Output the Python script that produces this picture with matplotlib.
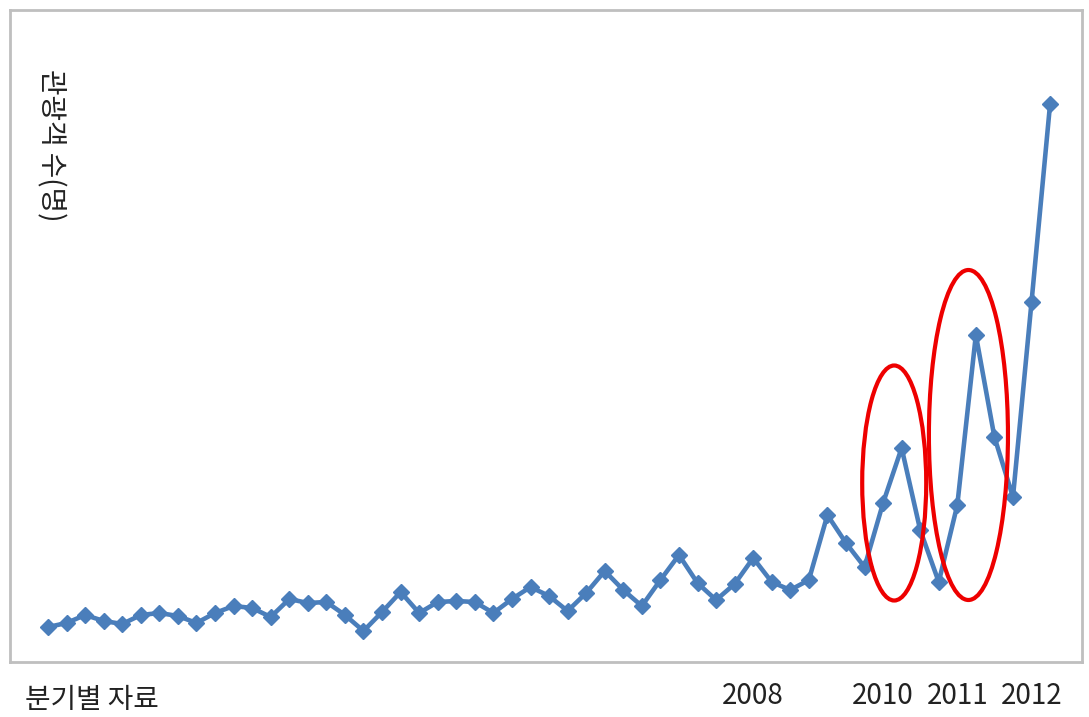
import matplotlib
matplotlib.use('Agg')
import matplotlib.pyplot as plt
from matplotlib.patches import Ellipse

plt.rcParams['font.family'] = ['Noto Sans CJK KR', 'DejaVu Sans']

# quarterly tourist counts (arbitrary units)
quarter_index = list(range(55))
tourists = [33, 37, 45, 39, 36, 45, 47, 44, 37, 47,
            54, 52, 43, 61, 57, 58, 45, 29, 48, 68,
            47, 58, 59, 58, 47, 61, 73, 64, 49, 67,
            89, 70, 54, 80, 105, 77, 60, 76, 102, 78,
            70, 80, 145, 117, 93, 157, 212, 130, 78, 155,
            325, 223, 163, 358, 556]

year_tick_index = [38, 45, 49, 53]
year_tick_labels = ['2008', '2010', '2011', '2012']

# highlighted seasons: (center index, center value, width, height)
highlights = [(45.6, 177, 3.45, 235), (49.6, 225, 4.26, 330)]

fig = plt.figure(figsize=(10.89, 7.17), dpi=100)
ax = fig.add_axes([10 / 1089, 55 / 717, 1072 / 1089, 652 / 717])

ax.plot(quarter_index, tourists, color='#4a7ebb', lw=3.3, marker='D',
        markersize=8, zorder=3)

for cx, cy, w, h in highlights:
    ax.add_patch(Ellipse((cx, cy), w, h, fill=False, edgecolor='#ee0000',
                         lw=3, zorder=4))

ax.set_xlim(-2.05, 55.72)
ax.set_ylim(-2, 650)
ax.set_yticks([])
ax.set_xticks(year_tick_index)
ax.set_xticklabels(year_tick_labels, fontsize=20, color='#222222')
ax.tick_params(axis='x', length=0, pad=14)

for s in ax.spines.values():
    s.set_color('#bfbfbf')
    s.set_linewidth(2)

ax.text(0.038, 0.91, '관광객 수(명)', transform=ax.transAxes, rotation=270,
        ha='center', va='top', fontsize=20, color='#222222')
fig.text(25 / 1089, 1 - 700 / 717, '분기별 자료', ha='left', va='center',
         fontsize=20, color='#222222')

fig.savefig('out.png', dpi=100)
